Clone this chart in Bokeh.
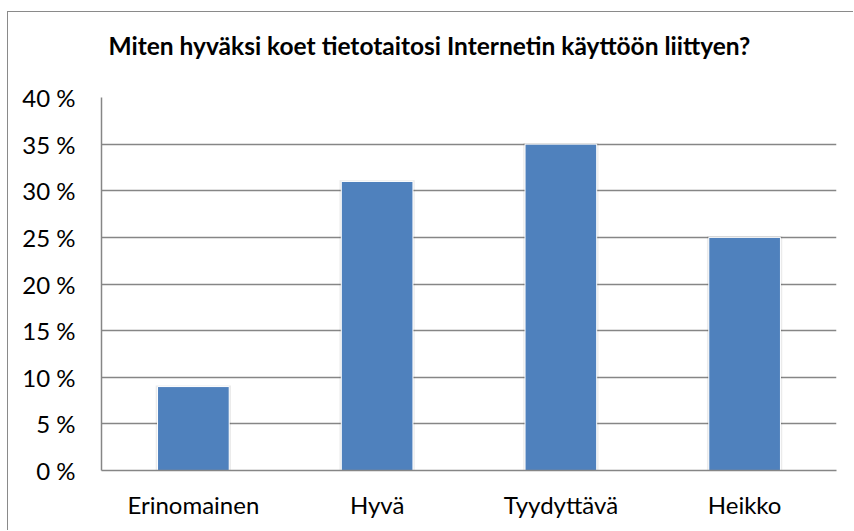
from bokeh.plotting import figure
from bokeh.models import FixedTicker
from bokeh.embed import file_html
from bokeh.resources import INLINE

categories = ["Erinomainen", "Hyvä", "Tyydyttävä", "Heikko"]
values = [9, 31, 35, 25]
y_ticks = [0, 5, 10, 15, 20, 25, 30, 35, 40]
y_tick_labels = ["0 %", "5 %", "10 %", "15 %", "20 %", "25 %", "30 %", "35 %", "40 %"]
title_text = "Miten hyväksi koet tietotaitosi Internetin käyttöön liittyen?"

FONT = "Lato"

p = figure(x_range=categories, y_range=(0, 40), width=846, height=519,
           output_backend="svg", toolbar_location=None,
           min_border_left=93, min_border_right=18, min_border_top=85, min_border_bottom=61)
p.styles = {"margin-left": "7px", "margin-top": "11px",
            "border-left": "1px solid #8a8a8a", "border-top": "1px solid #8a8a8a"}

p.title.text = title_text + "\n"
p.title.text_font = FONT
p.title.text_font_size = "24.5px"
p.title.text_font_style = "bold"
p.title.text_color = "#000000"
p.title.align = "left"
p.title.offset = 7
p.title.vertical_align = "bottom"
p.title.standoff = 18

shadow_tops = [v + 0.12 for v in values]
p.vbar(x=categories, top=shadow_tops, width=0.41, fill_color="#000000",
       fill_alpha=0.08, line_color=None)
p.vbar(x=categories, top=values, width=0.39, fill_color="#4F81BD",
       line_color="white", line_width=1)

p.yaxis.ticker = FixedTicker(ticks=y_ticks)
p.yaxis.major_label_overrides = {t: l for t, l in zip(y_ticks, y_tick_labels)}
for ax in (p.xaxis[0], p.yaxis[0]):
    ax.major_label_text_font = FONT
    ax.major_label_text_font_size = "24px"
    ax.major_label_text_color = "#000000"
    ax.major_tick_line_color = None
    ax.minor_tick_line_color = None
    ax.axis_line_color = "#868686"
    ax.axis_line_width = 1.5
p.yaxis.major_label_standoff = 20
p.xaxis.major_label_standoff = 13

p.xgrid.grid_line_color = None
p.ygrid.grid_line_color = "#868686"
p.ygrid.grid_line_width = 1.5
p.outline_line_color = None

open("out.html", "w").write(file_html(p, INLINE))
